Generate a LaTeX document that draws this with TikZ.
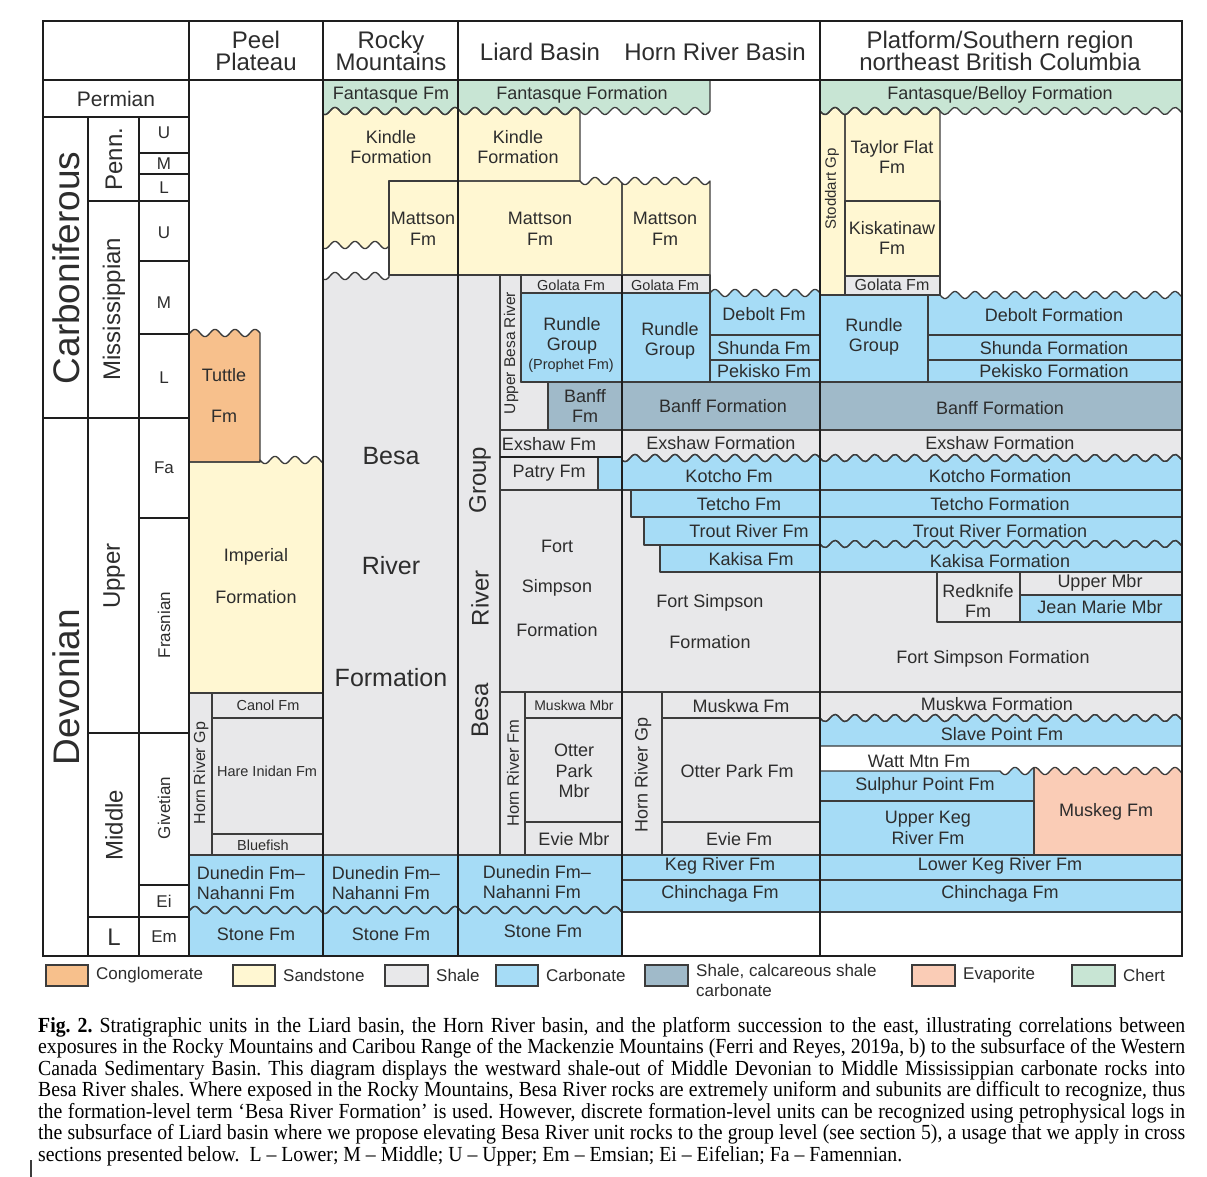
\documentclass[tikz,border=0pt]{standalone}
\usepackage{fontspec}
\setmainfont{Liberation Sans}
\newfontfamily\capfont[FakeStretch=0.92]{Liberation Serif}
\definecolor{cgl}{RGB}{247,192,140}
\definecolor{snd}{RGB}{255,247,210}
\definecolor{shl}{RGB}{232,232,234}
\definecolor{crb}{RGB}{166,220,246}
\definecolor{cal}{RGB}{160,186,201}
\definecolor{evp}{RGB}{250,204,182}
\definecolor{cht}{RGB}{200,229,212}
\definecolor{txt}{RGB}{45,45,45}
\definecolor{edg}{RGB}{60,60,60}
\definecolor{frm}{RGB}{30,30,30}
\newcommand\fz[2]{\fontsize{#1}{#2}\selectfont}
\newcommand\wv[3]{-- plot[smooth,domain=#1:#2,samples=120] (\x,{#3+3.6*sin(18*(\x-800))})}
\newcommand\allregions{%
% Peel Plateau
\rg{cgl}{(189,462) \wv{189}{260}{333} -- (260,462) -- cycle}%
\rg{snd}{(189,693) -- (189,462) -- (260,462) \wv{260}{323}{460} -- (323,693) -- cycle}%
\rg{shl}{(189,693) rectangle (212,855)}%
\rg{shl}{(212,693) rectangle (323,718)}%
\rg{shl}{(212,718) rectangle (323,834)}%
\rg{shl}{(212,834) rectangle (323,855)}%
\rg{crb}{(189,855) -- (323,855) \wv{323}{189}{910} -- cycle}%
\rg{crb}{(189,956) \wv{189}{323}{910} -- (323,956) -- cycle}%
% Rocky Mountains
\rg{cht}{(323,80) -- (458,80) \wv{458}{323}{111} -- cycle}%
\rg{snd}{(458,181) -- (389,181) \wv{389}{323}{245} \wv{323}{458}{111} -- cycle}%
\rg{snd}{(389,181) rectangle (458,275)}%
\rg{shl}{(458,855) -- (458,275) -- (389,275) \wv{389}{323}{276} -- (323,855) -- cycle}%
\rg{crb}{(323,855) -- (458,855) \wv{458}{323}{910} -- cycle}%
\rg{crb}{(323,956) \wv{323}{458}{910} -- (458,956) -- cycle}%
% Liard Basin
\rg{cht}{(458,80) -- (710,80) \wv{710}{458}{111} -- cycle}%
\rg{snd}{(458,181) \wv{458}{580}{111} -- (580,181) -- cycle}%
\rg{snd}{(458,275) -- (458,181) -- (580,181) \wv{580}{622}{181} -- (622,275) -- cycle}%
\rg{snd}{(622,275) \wv{622}{710}{181} -- (710,275) -- cycle}%
\rg{shl}{(458,275) rectangle (500,855)}%
\rg{shl}{(500,275) -- (521,275) -- (521,382) -- (548,382) -- (548,430) -- (500,430) -- cycle}%
\rg{shl}{(521,275) rectangle (622,293)}%
\rg{crb}{(521,293) rectangle (622,382)}%
\rg{cal}{(548,382) rectangle (622,430)}%
\rg{shl}{(500,430) rectangle (622,457)}%
\rg{shl}{(500,457) rectangle (598,490)}%
\rg{crb}{(598,457) rectangle (622,490)}%
\rg{shl}{(500,490) rectangle (622,692)}%
\rg{shl}{(500,692) rectangle (525,855)}%
\rg{shl}{(525,692) rectangle (622,718)}%
\rg{shl}{(525,718) rectangle (622,822)}%
\rg{shl}{(525,822) rectangle (622,855)}%
\rg{crb}{(458,855) -- (622,855) \wv{622}{458}{910} -- cycle}%
\rg{crb}{(458,956) \wv{458}{622}{910} -- (622,956) -- cycle}%
% Horn River Basin
\rg{shl}{(622,275) rectangle (710,293)}%
\rg{crb}{(622,293) rectangle (710,382)}%
\rg{crb}{(710,335) \wv{710}{820}{293} -- (820,335) -- cycle}%
\rg{crb}{(710,335) rectangle (820,360)}%
\rg{crb}{(710,360) rectangle (820,382)}%
\rg{cal}{(622,382) rectangle (820,430)}%
\rg{shl}{(622,430) -- (820,430) \wv{820}{622}{458} -- cycle}%
\rg{crb}{(622,490) \wv{622}{820}{458} -- (820,490) -- cycle}%
\rg{shl}{(622,490) rectangle (820,692)}%
\rg{crb}{(631,490) rectangle (820,517)}%
\rg{crb}{(644,517) rectangle (820,545)}%
\rg{crb}{(660,545) rectangle (820,572)}%
\rg{shl}{(622,692) rectangle (662,855)}%
\rg{shl}{(662,692) rectangle (820,718)}%
\rg{shl}{(662,718) rectangle (820,822)}%
\rg{shl}{(662,822) rectangle (820,855)}%
\rg{crb}{(622,855) rectangle (820,880)}%
\rg{crb}{(622,880) rectangle (820,912)}%
% Platform
\rg{cht}{(820,80) -- (1182,80) \wv{1182}{820}{111} -- cycle}%
\rg{snd}{(820,295) \wv{820}{845}{111} -- (845,295) -- cycle}%
\rg{snd}{(845,201) \wv{845}{940}{111} -- (940,201) -- cycle}%
\rg{snd}{(845,201) rectangle (940,276)}%
\rg{shl}{(845,276) rectangle (940,295)}%
\rg{crb}{(820,295) rectangle (928,382)}%
\rg{crb}{(928,335) -- (928,295) -- (940,295) \wv{940}{1182}{295} -- (1182,335) -- cycle}%
\rg{crb}{(928,335) rectangle (1182,360)}%
\rg{crb}{(928,360) rectangle (1182,382)}%
\rg{cal}{(820,382) rectangle (1182,430)}%
\rg{shl}{(820,430) -- (1182,430) \wv{1182}{820}{458} -- cycle}%
\rg{crb}{(820,490) \wv{820}{1182}{458} -- (1182,490) -- cycle}%
\rg{crb}{(820,490) rectangle (1182,517)}%
\rg{crb}{(820,517) -- (1182,517) \wv{1182}{820}{544} -- cycle}%
\rg{crb}{(820,572) \wv{820}{1182}{544} -- (1182,572) -- cycle}%
\rg{shl}{(820,572) rectangle (1182,692)}%
\rg{shl}{(937,572) rectangle (1020,622)}%
\rg{shl}{(1020,572) rectangle (1182,595)}%
\rg{crb}{(1020,595) rectangle (1182,622)}%
\rg{shl}{(820,692) -- (1182,692) \wv{1182}{820}{718} -- cycle}%
\rg{crb}{(820,746) \wv{820}{1182}{718} -- (1182,746) -- cycle}%
\rg{crb}{(820,801) -- (820,771) -- (1000,771) \wv{1000}{1034}{771} -- (1034,801) -- cycle}%
\rg{crb}{(820,801) rectangle (1034,855)}%
\rg{evp}{(1034,855) \wv{1034}{1182}{771} -- (1182,855) -- cycle}%
\rg{crb}{(820,855) rectangle (1182,880)}%
\rg{crb}{(820,880) rectangle (1182,912)}%
}
\begin{document}
\begin{tikzpicture}[x=1pt,y=-1pt,
  base/.style={inner sep=0pt,text=txt,align=center},
  lbl/.style={base,font=\fz{18}{20.5}},
  sml/.style={base,font=\fz{14.5}{17}},
  hdr/.style={base,font=\fz{24}{22.5}},
  bigl/.style={base,font=\fz{25}{28}},
  age/.style={base,font=\fz{17}{19}},
  epo/.style={base,font=\fz{24}{26}},
  per/.style={base,font=\fz{37}{40}},
  bnd/.style={draw=edg,line width=1.3pt,line join=round},
  thkln/.style={draw=frm,line width=2.6pt},
  medln/.style={draw=frm,line width=2pt},
  lgd/.style={base,font=\fz{17}{20},align=left,anchor=west},
  lbox/.style={draw=edg,line width=1.3pt},
]
\fill[white] (0,0) rectangle (1207,1177);
\useasboundingbox (0,0) rectangle (1207,1177);
% fills
\def\rg#1#2{\fill[#1] #2;}
\allregions
% outlines
\def\rg#1#2{\draw[bnd] #2;}
\allregions
% column and time-scale rules
\draw[medln] (622,275) -- (622,956);
\draw[medln] (500,457) -- (622,457);
\draw[medln] (139,153) -- (189,153) (139,174) -- (189,174) (139,261) -- (189,261)
  (139,334) -- (189,334) (139,518) -- (189,518) (139,885) -- (189,885);
\draw[thkln] (88,201) -- (189,201) (88,733) -- (189,733) (88,917) -- (189,917);
\draw[thkln] (43,117) -- (189,117) (43,418) -- (189,418);
\draw[thkln] (88,117) -- (88,956) (139,117) -- (139,956);
\draw[thkln] (43,80) -- (1182,80);
\draw[thkln] (189,21) -- (189,956) (323,21) -- (323,956) (458,21) -- (458,956) (820,21) -- (820,956);
\draw[thkln] (43,21) rectangle (1182,956);
% headers
\node[hdr] (hPeel) at (256,51) {Peel\\Plateau};
\node[hdr] (hRocky) at (391,51) {Rocky\\Mountains};
\node[hdr] (hLiard) at (540,52) {Liard Basin};
\node[hdr] (hHorn) at (715,52) {Horn River Basin};
\node[hdr] (hPlat) at (1000,51) {Platform/Southern region\\northeast British Columbia};
% time scale
\node[base,font=\fz{21}{24}] (pPerm) at (116,99) {Permian};
\node[per,rotate=90] (pCarb) at (66,268) {Carboniferous};
\node[per,rotate=90] (pDev) at (66,687) {Devonian};
\node[epo,rotate=90] (ePenn) at (114,159) {Penn.};
\node[epo,rotate=90] (eMiss) at (114,309) {Mississippian};
\node[epo,rotate=90] (eUpp) at (114,576) {Upper};
\node[epo,rotate=90] (eMid) at (114,825) {Middle};
\node[epo] (eL) at (114,937) {L};
\node[age] (aU1) at (164,133) {U};
\node[age] (aM1) at (164,164) {M};
\node[age] (aL1) at (164,188) {L};
\node[age] (aU2) at (164,233) {U};
\node[age] (aM2) at (164,303) {M};
\node[age] (aL2) at (164,378) {L};
\node[age] (aFa) at (164,468) {Fa};
\node[age,rotate=90] (aFr) at (164,625) {Frasnian};
\node[age,rotate=90] (aGi) at (164,808) {Givetian};
\node[age] (aEi) at (164,901) {Ei};
\node[age] (aEm) at (164,937) {Em};
% Peel Plateau
\node[lbl] (tTut1) at (224,375) {Tuttle};
\node[lbl] (tTut2) at (224,416) {Fm};
\node[lbl] (tImp1) at (256,557) {Imperial};
\node[lbl] (tImp2) at (256,597) {Formation};
\node[base,font=\fz{16}{18},rotate=90] (tHRGp1) at (201,773) {Horn River Gp};
\node[sml] (tCanol) at (268,705) {Canol Fm};
\node[sml] (tHare) at (267,771) {Hare Inidan Fm};
\node[sml] (tBlue) at (263,845) {Bluefish};
\node[lbl,align=left] (tDun1) at (251,883) {Dunedin Fm–\\Nahanni Fm};
\node[lbl] (tSto1) at (256,934) {Stone Fm};
% Rocky Mountains
\node[lbl] (tFan1) at (391,95) {Fantasque Fm};
\node[lbl] (tKin1) at (391,147) {Kindle\\Formation};
\node[lbl] (tMat1) at (423,229) {Mattson\\Fm};
\node[bigl] (tBes1) at (391,456) {Besa};
\node[bigl] (tBes2) at (391,566) {River};
\node[bigl] (tBes3) at (391,678) {Formation};
\node[lbl,align=left] (tDun2) at (386,883) {Dunedin Fm–\\Nahanni Fm};
\node[lbl] (tSto2) at (391,934) {Stone Fm};
% Liard Basin
\node[lbl] (tFan2) at (582,95) {Fantasque Formation};
\node[lbl] (tKin2) at (518,147) {Kindle\\Formation};
\node[lbl] (tMat2) at (540,229) {Mattson\\Fm};
\node[lbl] (tMat3) at (665,229) {Mattson\\Fm};
\node[sml] (tGol1) at (571,285) {Golata Fm};
\node[sml] (tGol2) at (665,285) {Golata Fm};
\node[base,font=\fz{15.5}{18},rotate=90] (tUBR) at (511,353) {Upper Besa River};
\node[lbl] (tRun1) at (572,336) {Rundle\\Group};
\node[base,font=\fz{14.5}{17}] (tPro) at (571,366) {(Prophet Fm)};
\node[lbl] (tBan1) at (585,406) {Banff\\Fm};
\node[lbl] (tExs1) at (549,444) {Exshaw Fm};
\node[lbl] (tPat) at (549,473) {Patry Fm};
\node[lbl] (tFS1) at (557,546) {Fort};
\node[lbl] (tFS2) at (557,588) {Simpson};
\node[lbl] (tFS3) at (557,630) {Formation};
\node[epo,rotate=90] (tBRG1) at (480,710) {Besa};
\node[epo,rotate=90] (tBRG2) at (480,598) {River};
\node[epo,rotate=90] (tBRG3) at (480,480) {Group};
\node[base,font=\fz{16.5}{18},rotate=90] (tHRF) at (513,773) {Horn River Fm};
\node[base,font=\fz{14}{16}] (tMuM) at (574,705) {Muskwa Mbr};
\node[lbl] (tOtM) at (574,771) {Otter\\Park\\Mbr};
\node[lbl] (tEvM) at (574,839) {Evie Mbr};
\node[lbl,align=left] (tDun3) at (537,882) {Dunedin Fm–\\Nahanni Fm};
\node[lbl] (tSto3) at (543,931) {Stone Fm};
% Horn River Basin
\node[lbl] (tRun2) at (670,341) {Rundle\\Group};
\node[lbl] (tDeb1) at (764,314) {Debolt Fm};
\node[lbl] (tShu1) at (764,348) {Shunda Fm};
\node[lbl] (tPek1) at (764,371) {Pekisko Fm};
\node[lbl] (tBan2) at (723,406) {Banff Formation};
\node[lbl] (tExs2) at (721,443) {Exshaw Formation};
\node[lbl] (tKot1) at (729,476) {Kotcho Fm};
\node[lbl] (tTet1) at (739,504) {Tetcho Fm};
\node[lbl] (tTro1) at (749,531) {Trout River Fm};
\node[lbl] (tKak1) at (751,559) {Kakisa Fm};
\node[lbl] (tFS4) at (710,603) {Fort Simpson};
\node[lbl] (tFS5) at (710,642) {Formation};
\node[base,font=\fz{18}{20},rotate=90] (tHRGp2) at (643,775) {Horn River Gp};
\node[lbl] (tMus1) at (741,706) {Muskwa Fm};
\node[lbl] (tOtt1) at (737,771) {Otter Park Fm};
\node[lbl] (tEvi1) at (739,839) {Evie Fm};
\node[lbl] (tKeg1) at (720,866) {Keg River Fm};
\node[lbl] (tChi1) at (720,894) {Chinchaga Fm};
% Platform
\node[lbl] (tFan3) at (1000,95) {Fantasque/Belloy Formation};
\node[base,font=\fz{15}{17},rotate=90] (tSto) at (832,189) {Stoddart Gp};
\node[lbl] (tTay) at (892,157) {Taylor Flat\\Fm};
\node[lbl] (tKis) at (892,238) {Kiskatinaw\\Fm};
\node[base,font=\fz{16}{18}] (tGol3) at (892,285) {Golata Fm};
\node[lbl] (tRun3) at (874,337) {Rundle\\Group};
\node[lbl] (tDeb2) at (1054,315) {Debolt Formation};
\node[lbl] (tShu2) at (1054,348) {Shunda Formation};
\node[lbl] (tPek2) at (1054,371) {Pekisko Formation};
\node[lbl] (tBan3) at (1000,408) {Banff Formation};
\node[lbl] (tExs3) at (1000,443) {Exshaw Formation};
\node[lbl] (tKot2) at (1000,476) {Kotcho Formation};
\node[lbl] (tTet2) at (1000,504) {Tetcho Formation};
\node[lbl] (tTro2) at (1000,531) {Trout River Formation};
\node[lbl] (tKak2) at (1000,561) {Kakisa Formation};
\node[lbl] (tRed) at (978,601) {Redknife\\Fm};
\node[lbl] (tUpM) at (1100,583) {Upper Mbr};
\node[lbl] (tJMM) at (1100,607) {Jean Marie Mbr};
\node[lbl] (tFS6) at (993,659) {Fort Simpson Formation};
\node[lbl] (tMus2) at (997,704) {Muskwa Formation};
\node[lbl] (tSla) at (1002,734) {Slave Point Fm};
\node[lbl] (tWat) at (919,761) {Watt Mtn Fm};
\node[lbl] (tSul) at (925,786) {Sulphur Point Fm};
\node[lbl] (tUKR) at (928,828) {Upper Keg\\River Fm};
\node[lbl] (tMsk) at (1106,812) {Muskeg Fm};
\node[lbl] (tLKR) at (1000,866) {Lower Keg River Fm};
\node[lbl] (tChi2) at (1000,894) {Chinchaga Fm};
% legend
\filldraw[lbox,fill=cgl] (46,965) rectangle (88,986);
\node[lgd] (lCgl) at (96,975) {Conglomerate};
\filldraw[lbox,fill=snd] (233,965) rectangle (275,986);
\node[lgd] (lSnd) at (283,975) {Sandstone};
\filldraw[lbox,fill=shl] (385,965) rectangle (428,986);
\node[lgd] (lShl) at (436,975) {Shale};
\filldraw[lbox,fill=crb] (496,965) rectangle (538,986);
\node[lgd] (lCrb) at (546,975) {Carbonate};
\filldraw[lbox,fill=cal] (645,965) rectangle (688,986);
\node[lgd,anchor=north west] (lCal) at (696,964) {Shale, calcareous shale\\carbonate};
\filldraw[lbox,fill=evp] (912,965) rectangle (955,986);
\node[lgd] (lEvp) at (963,975) {Evaporite};
\filldraw[lbox,fill=cht] (1072,965) rectangle (1115,986);
\node[lgd] (lCht) at (1123,975) {Chert};
% caption
\begin{scope}[every node/.style={anchor=base west,inner sep=0pt,text=black,font=\capfont\fz{21.5}{21}\frenchspacing}]
\node (cap1) at (38,1032) {\makebox[1147pt][s]{\textbf{Fig. 2.} Stratigraphic units in the Liard basin, the Horn River basin, and the platform succession to the east, illustrating correlations between}};
\node (cap2) at (38,1053.5) {\makebox[1147pt][s]{exposures in the Rocky Mountains and Caribou Range of the Mackenzie Mountains (Ferri and Reyes, 2019a, b) to the subsurface of the Western}};
\node (cap3) at (38,1075) {\makebox[1147pt][s]{Canada Sedimentary Basin. This diagram displays the westward shale-out of Middle Devonian to Middle Mississippian carbonate rocks into}};
\node (cap4) at (38,1096.5) {\makebox[1147pt][s]{Besa River shales. Where exposed in the Rocky Mountains, Besa River rocks are extremely uniform and subunits are difficult to recognize, thus}};
\node (cap5) at (38,1118) {\makebox[1147pt][s]{the formation-level term ‘Besa River Formation’ is used. However, discrete formation-level units can be recognized using petrophysical logs in}};
\node (cap6) at (38,1139.5) {\makebox[1147pt][s]{the subsurface of Liard basin where we propose elevating Besa River unit rocks to the group level (see section 5), a usage that we apply in cross}};
\node (cap7) at (38,1161) {sections presented below.\ \ L – Lower; M – Middle; U – Upper; Em – Emsian; Ei – Eifelian; Fa – Famennian.};
\end{scope}
\draw[draw=edg,line width=1.2pt] (31,1160) -- (31,1177);
\end{tikzpicture}
\end{document}
